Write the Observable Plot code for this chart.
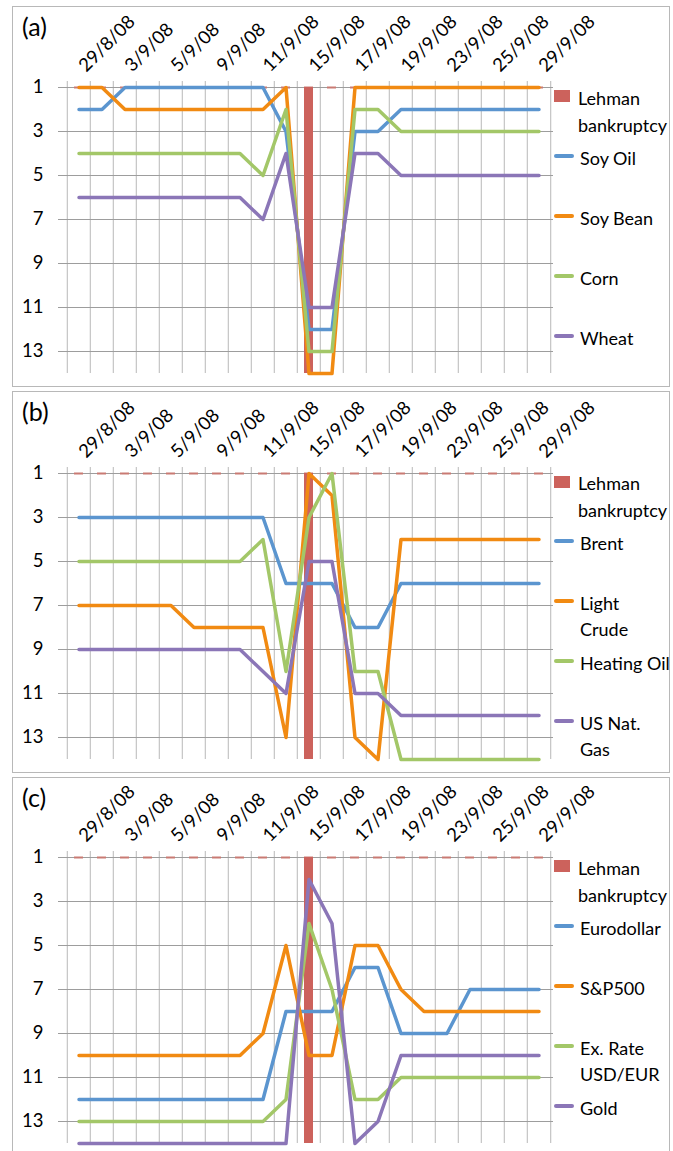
<!DOCTYPE html>
<html><head><meta charset="utf-8">
<script src="https://cdn.jsdelivr.net/npm/d3@7"></script>
<script src="https://cdn.jsdelivr.net/npm/@observablehq/plot@0.6"></script>
<style>
html,body{margin:0;padding:0;background:#fff;overflow:hidden;}
body{width:673px;height:1151px;position:relative;font-family:Lato,"Open Sans",sans-serif;color:#000;}
.panel{position:absolute;left:12px;width:658px;border:1px solid #b8b8b8;box-sizing:border-box;}
.holder{position:absolute;left:0;}
.holder svg{display:block;max-width:none;}
.tag{position:absolute;left:22px;font-size:25px;line-height:1;}
.lg{position:absolute;font-size:18px;line-height:26px;white-space:nowrap;}
.sw{position:absolute;height:3.5px;border-radius:2px;}
.rect{position:absolute;}
</style></head><body>
<script>
// ---- data ----
const dates = ["29/8/08","2/9/08","3/9/08","4/9/08","5/9/08","8/9/08","9/9/08","10/9/08","11/9/08","12/9/08","15/9/08","16/9/08","17/9/08","18/9/08","19/9/08","22/9/08","23/9/08","24/9/08","25/9/08","26/9/08","29/9/08"];
const tickLabels = ["29/8/08","3/9/08","5/9/08","9/9/08","11/9/08","15/9/08","17/9/08","19/9/08","23/9/08","25/9/08","29/9/08"];
const yTicks = [1,3,5,7,9,11,13];
const lehman = [1,1,1,1,1,1,1,1,1,1,14,1,1,1,1,1,1,1,1,1,1];

// (a)
const soyOil  = [2,2,1,1,1,1,1,1,1,3,12,12,3,3,2,2,2,2,2,2,2];
const soyBean = [1,1,2,2,2,2,2,2,2,1,14,14,1,1,1,1,1,1,1,1,1];
const corn    = [4,4,4,4,4,4,4,4,5,2,13,13,2,2,3,3,3,3,3,3,3];
const wheat   = [6,6,6,6,6,6,6,6,7,4,11,11,4,4,5,5,5,5,5,5,5];
// (b)
const brent      = [3,3,3,3,3,3,3,3,3,6,6,6,8,8,6,6,6,6,6,6,6];
const lightCrude = [7,7,7,7,7,8,8,8,8,13,1,2,13,14,4,4,4,4,4,4,4];
const heatingOil = [5,5,5,5,5,5,5,5,4,10,3,1,10,10,14,14,14,14,14,14,14];
const natGas     = [9,9,9,9,9,9,9,9,10,11,5,5,11,11,12,12,12,12,12,12,12];
// (c)
const eurodollar = [12,12,12,12,12,12,12,12,12,8,8,8,6,6,9,9,9,7,7,7,7];
const sp500      = [10,10,10,10,10,10,10,10,9,5,10,10,5,5,7,8,8,8,8,8,8];
const exRate     = [13,13,13,13,13,13,13,13,13,12,4,7,12,12,11,11,11,11,11,11,11];
const gold       = [14,14,14,14,14,14,14,14,14,14,2,4,14,13,10,10,10,10,10,10,10];

const colors = ["#5b95cf","#f18a12","#a3c768","#8b76b7"];
const lehmanColor = "#cc625c";

const panels = [
  {tag:"(a)", border:6, borderH:381, svgTop:6.3, height:380,
   series:[{name:["Soy Oil"],values:soyOil},{name:["Soy Bean"],values:soyBean},{name:["Corn"],values:corn},{name:["Wheat"],values:wheat}]},
  {tag:"(b)", border:391, borderH:382, svgTop:391.7, height:381,
   series:[{name:["Brent"],values:brent},{name:["Light","Crude"],values:lightCrude},{name:["Heating Oil"],values:heatingOil},{name:["US Nat.","Gas"],values:natGas}]},
  {tag:"(c)", border:777, borderH:420, svgTop:776.3, height:375,
   series:[{name:["Eurodollar"],values:eurodollar},{name:["S&P500"],values:sp500},{name:["Ex. Rate","USD/EUR"],values:exRate},{name:["Gold"],values:gold}]}
];

const W = 673, ML = 63, MR = 120, MT = 81, PH = 286;
const bw = (W - ML - MR) / dates.length;

function el(tag, cls, style, text){
  const e = document.createElement(tag);
  if (cls) e.className = cls;
  Object.assign(e.style, style||{});
  if (text != null) e.textContent = text;
  document.body.appendChild(e);
  return e;
}

panels.forEach(p => {
  el("div","panel",{top:p.border+"px",height:p.borderH+"px"});
  const lehmanRows = dates.map((d,i)=>({date:d, value:lehman[i]}));
  const svg = Plot.plot({
    width: W, height: p.height,
    marginLeft: ML, marginRight: MR, marginTop: MT, marginBottom: p.height - MT - PH,
    x: {type:"band", domain: dates, padding: 0, axis: null},
    y: {domain:[1,14], reverse:true, axis:null},
    style: {background:"transparent", overflow:"visible", fontFamily:"Lato, 'Open Sans', sans-serif", color:"#000"},
    marks: [
      Plot.ruleX(dates, {x: d=>d, dx: -bw/2, stroke:"#c4c4c4", strokeWidth:1.2, insetTop:-6}),
      Plot.ruleX([dates[dates.length-1]], {x: d=>d, dx: bw/2, stroke:"#c4c4c4", strokeWidth:1.2, insetTop:-6}),
      Plot.ruleY(yTicks, {y: d=>d, stroke:"#9d9d9d", strokeWidth:1.2, insetLeft:-5}),
      Plot.tickY(lehmanRows, {x:"date", y: d=>1, stroke:"#c97a73", strokeWidth:2, insetLeft:7, insetRight:7}),
      Plot.barY(lehmanRows.filter(d=>d.value>1), {x:"date", y1: d=>1, y2:"value", fill:lehmanColor, insetLeft:7, insetRight:7}),
      ...p.series.map((s,si)=>Plot.line(s.values.map((v,i)=>({date:dates[i], value:v})), {x:"date", y:"value", stroke:colors[si], strokeWidth:3.5, strokeLinejoin:"round", strokeLinecap:"round"})),
      Plot.text(yTicks, {y: d=>d, text: d=>String(d), frameAnchor:"left", textAnchor:"end", dx:-20, fontSize:18.5, fill:"#000"}),
      Plot.text(tickLabels, {x: d=>d, text: d=>d, frameAnchor:"top", rotate:-45, textAnchor:"start", dx:-2, dy:-24, fontSize:18.5, fill:"#000"})
    ]
  });
  const h = el("div","holder",{top:p.svgTop+"px"});
  h.appendChild(svg);
  el("div","tag",{top:(p.border+8)+"px"}, p.tag);
  const y1 = p.svgTop + MT;
  // legend
  el("div","rect",{left:"554px", width:"16px", top:(y1+3)+"px", height:"12px", background:lehmanColor});
  el("div","lg",{left:"578px", top:(y1+10.5-13)+"px"}, "Lehman");
  el("div","lg",{left:"578px", top:(y1+37.5-13)+"px"}, "bankruptcy");
  p.series.forEach((s,si)=>{
    const ly = y1 + 68.5 + 60*si;
    el("div","sw",{left:"554px", width:"20px", top:(ly-1.75)+"px", background:colors[si]});
    s.name.forEach((t,k)=>{
      el("div","lg",{left:"580px", top:(ly+2-13+26*k)+"px"}, t);
    });
  });
});
</script>
</body></html>
